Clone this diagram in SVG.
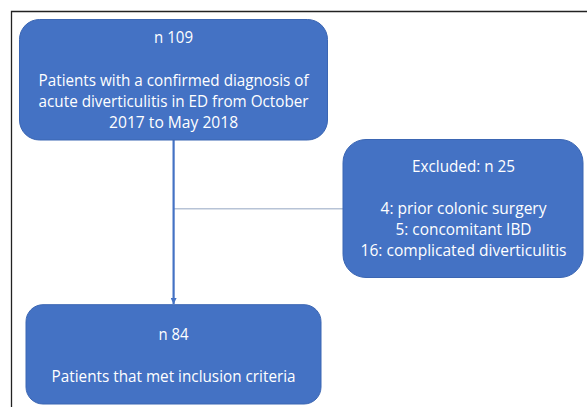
<svg xmlns="http://www.w3.org/2000/svg" width="587" height="407" viewBox="0 0 587 407">
<style>
.box{fill:#4472c4;stroke:#3b66b3;stroke-width:1}
.t{fill:#ffffff;font-family:"Open Sans","Noto Sans","Liberation Sans",sans-serif;font-size:15.5px;text-anchor:middle}
</style>
<defs>
<marker id="ah" viewBox="0 0 10 10" refX="10" refY="5" markerWidth="7" markerHeight="6" markerUnits="userSpaceOnUse" orient="auto">
<path d="M0,0 L10,5 L0,10 z" fill="#4472c4"/>
</marker>
</defs>
<rect width="587" height="407" fill="#ffffff"/>
<path d="M590 11.5 H11.5 V410" fill="none" stroke="#222222" stroke-width="1.3"/>
<g id="connectors">
<line x1="174" y1="208.7" x2="343" y2="208.7" stroke="#b7c3d6" stroke-width="1.6"/>
<line x1="173.6" y1="140" x2="173.6" y2="304" stroke="#4472c4" stroke-width="2.2" marker-end="url(#ah)"/>
</g>
<g id="node-start">
<rect class="box" x="19.5" y="19.5" width="308" height="120.5" rx="20" ry="20"/>
<text class="t" x="173.6" y="43.3" textLength="39" lengthAdjust="spacingAndGlyphs">n 109</text>
<text class="t" x="173.6" y="85.7" textLength="270" lengthAdjust="spacingAndGlyphs">Patients with a confirmed diagnosis of</text>
<text class="t" x="173.6" y="106.7" textLength="270" lengthAdjust="spacingAndGlyphs">acute diverticulitis in ED from October</text>
<text class="t" x="173.6" y="127.7" textLength="129" lengthAdjust="spacingAndGlyphs">2017 to May 2018</text>
</g>
<g id="node-excluded">
<rect class="box" x="343" y="139.5" width="240" height="138" rx="23" ry="23"/>
<text class="t" x="463.5" y="171.7" textLength="103" lengthAdjust="spacingAndGlyphs">Excluded: n 25</text>
<text class="t" x="463.5" y="214" textLength="166" lengthAdjust="spacingAndGlyphs">4: prior colonic surgery</text>
<text class="t" x="463.5" y="235" textLength="136" lengthAdjust="spacingAndGlyphs">5: concomitant IBD</text>
<text class="t" x="463.5" y="256" textLength="206" lengthAdjust="spacingAndGlyphs">16: complicated diverticulitis</text>
</g>
<g id="node-included">
<rect class="box" x="26" y="304.7" width="295" height="99.3" rx="17" ry="17"/>
<text class="t" x="173.6" y="340" textLength="30" lengthAdjust="spacingAndGlyphs">n 84</text>
<text class="t" x="173.6" y="382" textLength="244" lengthAdjust="spacingAndGlyphs">Patients that met inclusion criteria</text>
</g>
</svg>
